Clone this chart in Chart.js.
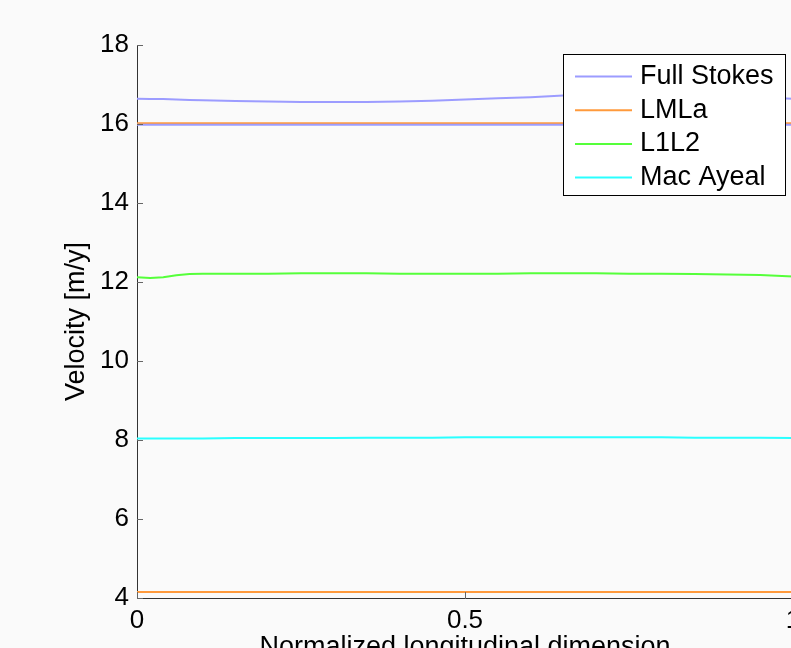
<!DOCTYPE html>
<html>
<head>
<meta charset="utf-8">
<title>Velocity profiles</title>
<script src="https://cdn.jsdelivr.net/npm/chart.js@4.4.0/dist/chart.umd.min.js"></script>
<style>
  html, body { margin: 0; padding: 0; background: #fafafa; overflow: hidden; }
  #wrap { width: 791px; height: 648px; overflow: hidden; }
</style>
</head>
<body>
<div id="wrap"><canvas id="velocity" width="810" height="680"></canvas></div>
<script>
// normalized position along the flowline
const position = [0, 0.02, 0.04, 0.06, 0.08, 0.1, 0.15, 0.2, 0.25, 0.3, 0.35, 0.4,
                  0.45, 0.5, 0.55, 0.6, 0.65, 0.7, 0.75, 0.8, 0.85, 0.9, 0.95, 1];

// velocities [m/y]
const fullStokesTop = [16.64, 16.63, 16.63, 16.62, 16.61, 16.60, 16.58, 16.57, 16.56, 16.56, 16.56, 16.57,
                       16.59, 16.62, 16.65, 16.68, 16.72, 16.74, 16.75, 16.75, 16.73, 16.70, 16.67, 16.64];
const fullStokesBase = [15.98, 15.98, 15.98, 15.98, 15.98, 15.98, 15.98, 15.98, 15.98, 15.98, 15.98, 15.98,
                        15.98, 15.98, 15.98, 15.98, 15.98, 15.98, 15.98, 15.98, 15.98, 15.98, 15.98, 15.98];
const lmlaTop = [16.02, 16.02, 16.02, 16.02, 16.02, 16.02, 16.02, 16.02, 16.02, 16.02, 16.02, 16.02,
                 16.02, 16.02, 16.02, 16.02, 16.02, 16.02, 16.02, 16.02, 16.02, 16.02, 16.02, 16.02];
const lmlaBase = [4.15, 4.15, 4.15, 4.15, 4.15, 4.15, 4.15, 4.15, 4.15, 4.15, 4.15, 4.15,
                  4.15, 4.15, 4.15, 4.15, 4.15, 4.15, 4.15, 4.15, 4.15, 4.15, 4.15, 4.15];
const l1l2 = [12.12, 12.10, 12.12, 12.17, 12.20, 12.21, 12.21, 12.21, 12.22, 12.22, 12.22, 12.21,
              12.21, 12.21, 12.21, 12.22, 12.22, 12.22, 12.21, 12.21, 12.20, 12.19, 12.18, 12.14];
const macAyeal = [8.04, 8.04, 8.04, 8.04, 8.04, 8.04, 8.05, 8.05, 8.05, 8.05, 8.06, 8.06,
                  8.06, 8.07, 8.07, 8.07, 8.07, 8.07, 8.07, 8.07, 8.06, 8.06, 8.06, 8.05];

const yTicks = [4, 6, 8, 10, 12, 14, 16, 18];
const xTicks = [0, 0.5, 1];

const FONT = "'Liberation Sans', Arial, Helvetica, sans-serif";
Chart.defaults.font.family = FONT;
Chart.defaults.color = '#000';

function series(label, values, color, inKey) {
  return {
    label: label,
    data: values.map((v, i) => ({ x: position[i], y: v })),
    borderColor: color,
    backgroundColor: color,
    borderWidth: 2,
    pointRadius: 0,
    fill: false,
    tension: 0,
    inKey: inKey
  };
}

// tick marks drawn inwards from the axes
const innerTicks = {
  id: 'innerTicks',
  afterDatasetsDraw(chart) {
    const { ctx, chartArea, scales: { x, y } } = chart;
    ctx.save();
    ctx.strokeStyle = '#666';
    ctx.lineWidth = 1;
    ctx.beginPath();
    yTicks.forEach(v => {
      const py = Math.round(y.getPixelForValue(v)) + 0.5;
      ctx.moveTo(chartArea.left, py);
      ctx.lineTo(chartArea.left + 6, py);
    });
    xTicks.forEach(v => {
      const px = Math.round(x.getPixelForValue(v)) + 0.5;
      ctx.moveTo(px, chartArea.bottom);
      ctx.lineTo(px, chartArea.bottom - 6);
    });
    ctx.stroke();
    ctx.restore();
  }
};

// boxed key in the top right corner
const boxedKey = {
  id: 'boxedKey',
  afterDraw(chart) {
    const { ctx, chartArea } = chart;
    const items = chart.data.datasets.filter(d => d.inKey);
    const w = 222, rowH = 33.7;
    const h = 141;
    const left = chartArea.right - 8 - w;
    const top = chartArea.top + 9;
    ctx.save();
    ctx.fillStyle = '#fff';
    ctx.fillRect(left, top, w, h);
    ctx.strokeStyle = '#000';
    ctx.lineWidth = 1;
    ctx.strokeRect(Math.round(left) + 0.5, Math.round(top) + 0.5, w, h);
    ctx.font = '27px ' + FONT;
    ctx.textBaseline = 'middle';
    ctx.textAlign = 'left';
    items.forEach((d, i) => {
      const cy = top + 22.5 + i * rowH;
      ctx.strokeStyle = d.borderColor;
      ctx.lineWidth = 2;
      ctx.beginPath();
      ctx.moveTo(left + 12, cy);
      ctx.lineTo(left + 69, cy);
      ctx.stroke();
      ctx.fillStyle = '#000';
      ctx.fillText(d.label, left + 77, cy);
    });
    ctx.restore();
  }
};

new Chart(document.getElementById('velocity'), {
  type: 'line',
  data: {
    datasets: [
      series('Full Stokes', fullStokesBase, '#9c9cff', false),
      series('LMLa', lmlaTop, '#ff9a3c', false),
      series('Full Stokes', fullStokesTop, '#9c9cff', true),
      series('LMLa', lmlaBase, '#ff9a3c', true),
      series('L1L2', l1l2, '#55ff3a', true),
      series('Mac Ayeal', macAyeal, '#2affff', true)
    ]
  },
  options: {
    responsive: false,
    devicePixelRatio: 1,
    animation: false,
    layout: { padding: { left: 0, top: 45, right: 17, bottom: 0 } },
    plugins: {
      legend: { display: false },
      tooltip: { enabled: false }
    },
    scales: {
      x: {
        type: 'linear',
        min: 0,
        max: 1,
        afterFit: s => { s.height = 82; },
        afterBuildTicks: s => { s.ticks = xTicks.map(v => ({ value: v })); },
        grid: { display: false, drawTicks: false },
        border: { display: true, color: '#333', width: 1 },
        ticks: {
          padding: 7,
          font: { size: 26 },
          color: '#000',
          callback: v => String(v)
        },
        title: {
          display: true,
          text: 'Normalized longitudinal dimension',
          font: { size: 27 },
          color: '#000',
          padding: { top: 0, bottom: 16 }
        }
      },
      y: {
        min: 4,
        max: 18,
        afterFit: s => { s.width = 137; },
        afterBuildTicks: s => { s.ticks = yTicks.map(v => ({ value: v })); },
        grid: { display: false, drawTicks: false },
        border: { display: true, color: '#333', width: 1 },
        ticks: {
          padding: 8,
          font: { size: 26 },
          color: '#000'
        },
        title: {
          display: true,
          text: 'Velocity [m/y]',
          font: { size: 27 },
          color: '#000',
          padding: { top: 60, bottom: 0 }
        }
      }
    }
  },
  plugins: [innerTicks, boxedKey]
});
</script>
</body>
</html>
